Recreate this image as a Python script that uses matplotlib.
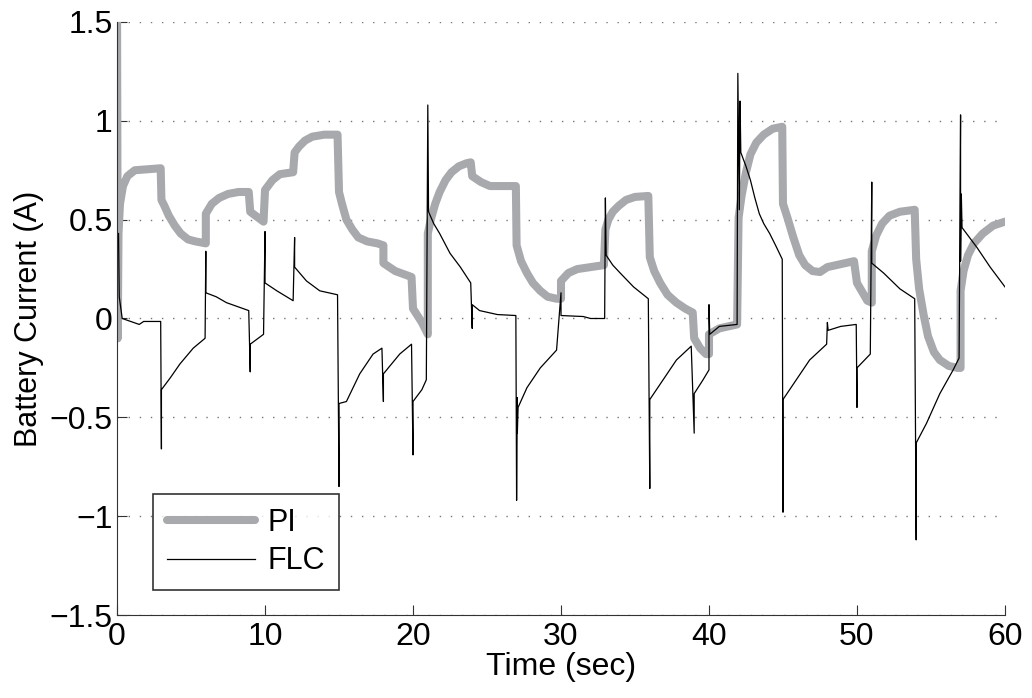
import numpy as np
import matplotlib
matplotlib.use("Agg")
import matplotlib.pyplot as plt

# PI controller battery current
pi_t = [0.0, 0.0, 0.05, 0.1, 0.2, 0.4, 0.7, 1.2, 2.95, 3.0, 3.2, 3.5, 3.9, 4.3,
        4.8, 5.3, 6.0, 6.0, 6.4, 6.9, 7.5, 8.2, 8.9, 9.0, 9.9, 10.0, 10.5, 11.0,
        11.9, 12.0, 12.3, 12.7, 13.2, 14.0, 14.9, 15.0, 15.2, 15.5, 15.9, 16.3,
        16.9, 17.6, 18.0, 18.0, 18.8, 19.9, 20.0, 20.6, 21.0, 21.0, 21.2, 21.5,
        21.8, 22.2, 22.6, 23.1, 23.6, 23.9, 24.0, 24.6, 25.2, 26.95, 27.0, 27.3,
        27.7, 28.1, 28.6, 29.1, 29.7, 30.0, 30.0, 30.5, 31.1, 32.9, 33.0, 33.2,
        33.5, 33.9, 34.4, 35.0, 35.9, 36.0, 36.3, 36.7, 37.2, 37.8, 38.4, 38.9,
        39.0, 39.4, 39.8, 40.0, 40.0, 40.7, 41.9, 42.0, 42.2, 42.5, 42.8, 43.2,
        43.7, 44.3, 44.95, 45.0, 45.3, 45.7, 46.1, 46.5, 47.0, 47.5, 48.0, 49.8,
        50.0, 50.7, 51.0, 51.0, 51.3, 51.7, 52.2, 52.9, 53.9, 54.0, 54.2, 54.5,
        54.8, 55.2, 55.6, 56.2, 56.8, 57.0, 57.0, 57.2, 57.5, 57.9, 58.5, 59.2,
        60.0]
pi_i = [-0.10, 1.50, -0.10, 0.43, 0.58, 0.67, 0.72, 0.75, 0.76, 0.60, 0.57,
        0.52, 0.47, 0.43, 0.40, 0.39, 0.38, 0.53, 0.58, 0.61, 0.63, 0.64, 0.64,
        0.54, 0.49, 0.65, 0.70, 0.73, 0.74, 0.84, 0.87, 0.90, 0.92, 0.93, 0.93,
        0.64, 0.58, 0.50, 0.45, 0.41, 0.39, 0.38, 0.37, 0.28, 0.24, 0.21, 0.05,
        -0.02, -0.08, 0.43, 0.50, 0.58, 0.64, 0.70, 0.74, 0.77, 0.785, 0.79, 0.72,
        0.69, 0.67, 0.67, 0.37, 0.29, 0.23, 0.18, 0.14, 0.11, 0.10, 0.10, 0.19,
        0.23, 0.25, 0.27, 0.45, 0.50, 0.54, 0.57, 0.60, 0.615, 0.62, 0.31, 0.24,
        0.18, 0.12, 0.08, 0.05, 0.03, -0.10, -0.15, -0.18, -0.18, -0.08, -0.05,
        -0.03, 0.51, 0.62, 0.74, 0.83, 0.89, 0.93, 0.96, 0.97, 0.58, 0.51, 0.41,
        0.32, 0.27, 0.24, 0.235, 0.26, 0.29, 0.18, 0.09, 0.08, 0.34, 0.42, 0.48,
        0.52, 0.54, 0.55, 0.30, 0.15, 0.02, -0.09, -0.17, -0.21, -0.24, -0.25,
        -0.25, 0.14, 0.24, 0.32, 0.38, 0.43, 0.47, 0.49]

# FLC battery current
flc_t = [0.1, 0.15, 0.35, 1.5, 1.8, 2.95, 3.0, 3.0, 3.6, 4.25, 5.15, 5.95, 6.0,
         6.0, 6.7, 7.4, 8.9, 9.0, 9.0, 9.9, 10.0, 10.0, 10.8, 11.9, 12.0, 12.0,
         12.8, 13.7, 14.9, 15.0, 15.0, 15.5, 16.4, 17.3, 17.9, 18.0, 18.0, 19.1,
         19.9, 20.0, 20.0, 20.6, 20.9, 21.0, 21.05, 21.4, 21.8, 22.5, 23.2, 23.9,
         24.0, 24.0, 24.5, 25.7, 26.95, 27.0, 27.05, 27.05, 27.1, 27.7, 28.6,
         29.7, 30.0, 30.0, 31.5, 32.0, 32.95, 33.0, 33.05, 33.5, 34.0, 34.9,
         35.9, 36.0, 36.0, 36.9, 37.8, 38.8, 39.0, 39.0, 39.6, 40.0, 40.0, 40.05,
         40.7, 41.9, 41.95, 42.05, 42.1, 42.15, 42.5, 42.8, 43.1, 43.4, 43.7,
         44.1, 44.5, 44.95, 45.0, 45.0, 45.9, 46.8, 47.95, 48.0, 48.05, 48.9,
         49.95, 50.0, 50.0, 50.9, 51.0, 51.0, 51.8, 52.9, 53.9, 54.0, 54.0, 54.7,
         55.6, 56.5, 56.9, 57.0, 57.0, 57.05, 57.1, 58.1, 59.0, 60.0]
flc_i = [0.43, 0.11, 0.0, -0.03, -0.015, -0.015, -0.66, -0.36, -0.30, -0.23,
         -0.15, -0.10, 0.34, 0.13, 0.11, 0.08, 0.04, -0.27, -0.13, -0.08, 0.44,
         0.18, 0.14, 0.09, 0.41, 0.26, 0.19, 0.14, 0.12, -0.85, -0.43, -0.42,
         -0.28, -0.18, -0.15, -0.42, -0.28, -0.18, -0.13, -0.69, -0.42, -0.36,
         -0.31, 1.08, 0.54, 0.48, 0.43, 0.33, 0.26, 0.18, -0.05, 0.07, 0.04,
         0.02, 0.015, -0.92, -0.40, -0.58, -0.45, -0.35, -0.25, -0.16, 0.13,
         0.015, 0.01, 0.0, 0.0, 0.61, 0.32, 0.27, 0.23, 0.16, 0.10, -0.86, -0.41,
         -0.31, -0.21, -0.14, -0.58, -0.38, -0.31, -0.26, 0.07, -0.08, -0.04,
         -0.03, 1.24, 0.55, 1.10, 0.84, 0.77, 0.70, 0.61, 0.53, 0.48, 0.43, 0.37,
         0.30, -0.98, -0.41, -0.31, -0.21, -0.13, -0.02, -0.06, -0.04, -0.03,
         -0.45, -0.25, -0.18, 0.69, 0.28, 0.23, 0.15, 0.10, -1.12, -0.63, -0.53,
         -0.38, -0.26, -0.20, 1.03, 0.29, 0.63, 0.46, 0.36, 0.26, 0.16]

y_ticks = [-1.5, -1, -0.5, 0, 0.5, 1, 1.5]
y_labels = ["\u22121.5", "\u22121", "\u22120.5", "0", "0.5", "1", "1.5"]
x_ticks = [0, 10, 20, 30, 40, 50, 60]

plt.rcParams["font.family"] = ["Liberation Sans", "DejaVu Sans"]

fig = plt.figure(figsize=(10.32, 6.98), dpi=100)
ax = fig.add_axes([0.1134, 0.1189, 0.8604, 0.8496])

ax.plot(pi_t, pi_i, color="#a8a9ad", linewidth=5.8, solid_joinstyle="round",
        solid_capstyle="round", label="PI")
ax.plot(flc_t, flc_i, color="black", linewidth=0.9, label="FLC")

ax.set_xlim(0, 60)
ax.set_ylim(-1.5, 1.5)
ax.set_xticks(x_ticks)
ax.set_yticks(y_ticks)
ax.set_yticklabels(y_labels)
ax.tick_params(direction="in", length=7, width=0.8, labelsize=23, pad=3,
               color="#333333")
ax.tick_params(axis="x", pad=5)
ax.yaxis.grid(True, color="#777777", linestyle=(0, (1, 7)), linewidth=1)
ax.set_axisbelow(True)

for s in ["top", "right"]:
    ax.spines[s].set_visible(False)
for s in ["left", "bottom"]:
    ax.spines[s].set_color("#333333")
    ax.spines[s].set_linewidth(0.8)

ax.set_xlabel("Time (sec)", fontsize=23, labelpad=0)
ax.set_ylabel("Battery Current (A)", fontsize=22, labelpad=4)

leg = ax.legend(loc="lower left", bbox_to_anchor=(0.0405, 0.042), fontsize=22,
                frameon=True, fancybox=False, edgecolor="black",
                borderaxespad=0, handlelength=2.9, handletextpad=0.4,
                borderpad=0.45, labelspacing=0.28)
leg.get_frame().set_linewidth(1.2)

plt.savefig("out.png", dpi=100)
